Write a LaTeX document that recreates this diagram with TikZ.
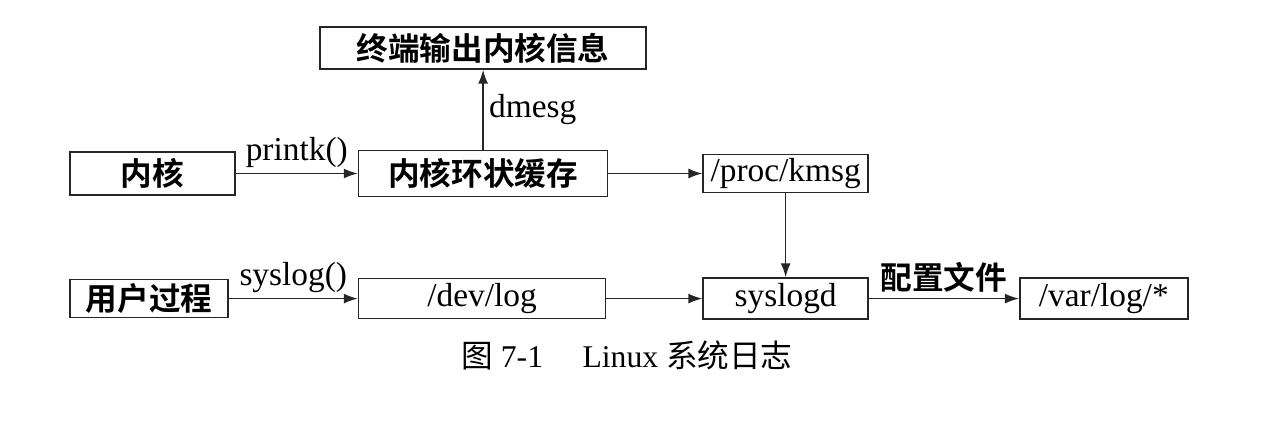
\documentclass[tikz,border=0pt]{standalone}
\usepackage{fontspec}
\setmainfont{Liberation Serif}
\newfontfamily\cjk{Noto Sans CJK SC}[BoldFont={Noto Sans CJK SC Bold}]
\usepackage{tikz}
\usetikzlibrary{arrows.meta, positioning}
\tikzset{
    block/.style={
        rectangle, draw=black!85, line width=0.9pt,
        minimum height=0.84cm, inner sep=2pt,
        text centered, font=\fontsize{19}{21}\selectfont,
    },
    cnblock/.style={
        block, font=\fontsize{18}{20}\selectfont\cjk\bfseries,
    },
    flow/.style={-{Latex[length=2.8mm, width=2mm]}, line width=0.9pt, draw=black!85},
    lbl/.style={font=\fontsize{19}{21}\selectfont, inner sep=3pt},
}

\begin{document}
\begin{tikzpicture}

    \useasboundingbox (-3.05,3.47) rectangle (22.67,-5.09);

    \node[cnblock, minimum width=3.3cm, minimum height=0.86cm] (kernel) at (0,0) {内核};
    \node[cnblock, minimum width=4.98cm, minimum height=0.92cm, right=2.44cm of kernel] (ringbuf) {内核环状缓存};
    \node[cnblock, minimum width=6.52cm, above=1.6cm of ringbuf] (console) {终端输出内核信息};
    \node[block, minimum width=3.3cm, minimum height=0.76cm, right=1.88cm of ringbuf] (kmsg) {/proc/kmsg};

    \node[block, minimum width=3.3cm, minimum height=0.82cm, below=1.68cm of kmsg] (syslogd) {syslogd};
    \node[block, minimum width=4.94cm, minimum height=0.8cm, left=1.92cm of syslogd] (devlog) {/dev/log};
    \node[cnblock, minimum width=3.16cm, minimum height=0.76cm, left=2.58cm of devlog] (user) {用户过程};
    \node[block, minimum width=3.36cm, minimum height=0.82cm, right=3.0cm of syslogd] (varlog) {/var/log/*};

    \node[font=\fontsize{18}{20}\selectfont] (caption) at (9.49,-3.63) {{\cjk 图}~7-1\quad\ Linux {\cjk 系统日志}};

    \draw[flow] (kernel) -- node[lbl, above] {printk()} (ringbuf);
    \draw[flow] (ringbuf) -- node[lbl, right] {dmesg} (console);
    \draw[flow] (ringbuf) -- (kmsg);
    \draw[flow] (kmsg) -- (syslogd);

    \draw[flow] (user) -- node[lbl, above] {syslog()} (devlog);
    \draw[flow] (devlog) -- (syslogd);
    \draw[flow] (syslogd) -- node[lbl, above, font=\fontsize{18}{20}\selectfont\cjk\bfseries] {配置文件} (varlog);

\end{tikzpicture}
\end{document}
